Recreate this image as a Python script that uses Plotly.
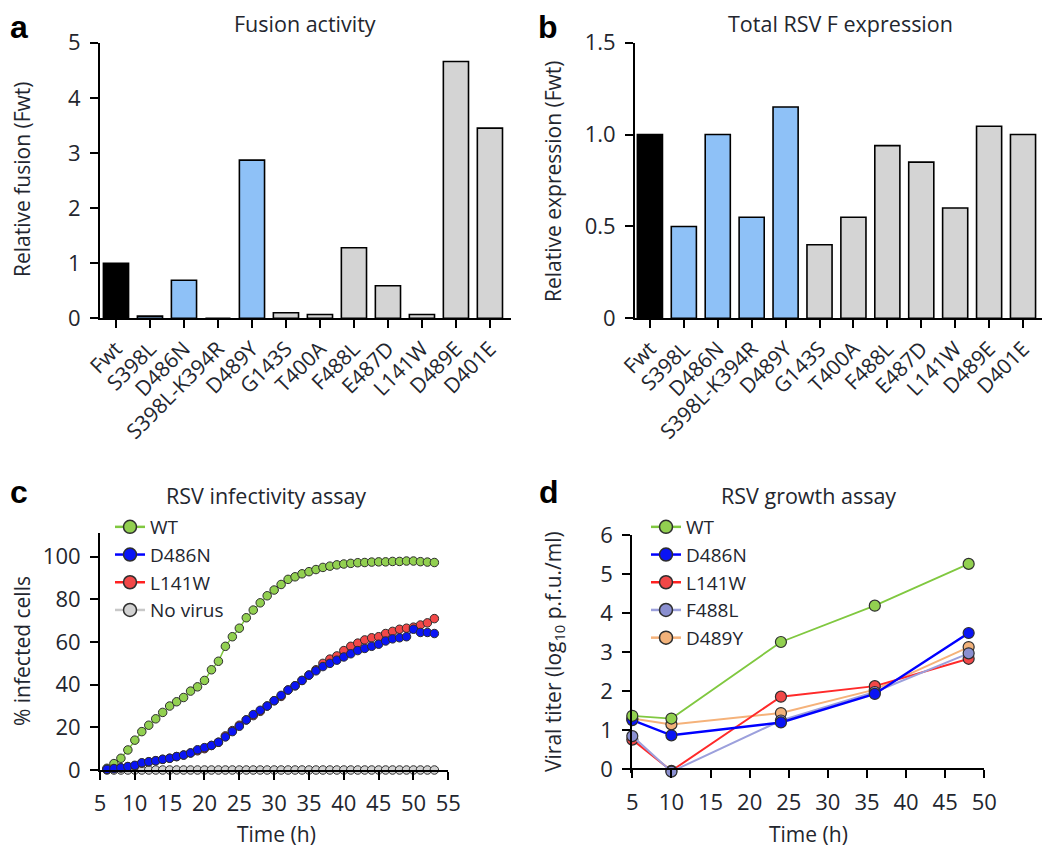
import plotly.graph_objects as go

FONT = "Open Sans"
LETTER_FONT = "Liberation Sans"
INK = "#23262e"
# the page body keeps its 8px margin, so the figure is 8px smaller than the window
OFF = 8
W, H = 1050 - OFF, 848 - OFF

# ---- panels a / b: F variants ----
variants = ["Fwt", "S398L", "D486N", "S398L-K394R", "D489Y", "G143S", "T400A",
            "F488L", "E487D", "L141W", "D489E", "D401E"]
variant_group = ["wt", "blue", "blue", "blue", "blue", "grey", "grey",
                 "grey", "grey", "grey", "grey", "grey"]
fusion = [1.0, 0.04, 0.69, 0.0, 2.87, 0.10, 0.07, 1.28, 0.59, 0.07, 4.66, 3.45]
expression = [1.0, 0.50, 1.0, 0.55, 1.15, 0.40, 0.55, 0.94, 0.85, 0.60, 1.045, 1.0]

# ---- panel c: infectivity time course (h, % infected) ----
c_time = [6, 7, 8, 9, 10, 11, 12, 13, 14, 15, 16, 17, 18, 19, 20, 21,
          22, 23, 24, 25, 26, 27, 28, 29, 30, 31, 32, 33, 34, 35, 36, 37,
          38, 39, 40, 41, 42, 43, 44, 45, 46, 47, 48, 49, 50, 51, 52, 53]
c_wt = [0.8, 3, 5.5, 9.4, 14, 18, 21, 24, 27, 30, 32, 34, 37, 39, 42, 47,
        51, 58, 62.5, 66.5, 71.4, 75, 78.4, 81.7, 84.4, 87, 89.4, 90.6, 92, 93, 94, 95,
        95.6, 96.2, 96.6, 96.9, 97.2, 97.3, 97.5, 97.6, 97.6, 97.8, 97.8, 98, 98, 97.7, 97.5, 97.3]
c_d486n = [0.3, 0.6, 1.0, 1.6, 2.2, 3.4, 3.9, 4.3, 5, 5.5, 6.3, 7, 8, 9.5, 10.5, 11.5,
           13, 15.5, 18, 20.5, 23.5, 26, 28, 30, 32.5, 35, 37.5, 39.5, 42, 44.5, 46.5, 48.5,
           50, 51.5, 53, 54.5, 56, 57, 58, 59, 60.5, 61.5, 62, 62.5, 66, 64.5, 64.5, 64]
c_l141w = [0.3, 0.7, 1.0, 1.6, 2.0, 3.2, 3.8, 4.4, 5, 5.5, 6.3, 7, 8, 9, 10, 11.5,
           13, 16, 18.5, 21, 23.5, 25.5, 27.5, 30, 32.5, 34.5, 37.5, 39.5, 42, 44.5, 47, 50,
           52, 53.5, 56, 58, 59.5, 61, 62, 62.5, 64, 65, 66, 66.5, 67, 68, 69, 71]
c_novirus = [0, 0, 0, 0, 0, 0, 0, 0, 0, 0, 0, 0, 0, 0, 0, 0,
             0, 0, 0, 0, 0, 0, 0, 0, 0, 0, 0, 0, 0, 0, 0, 0,
             0, 0, 0, 0, 0, 0, 0, 0, 0, 0, 0, 0, 0, 0, 0, 0]

# ---- panel d: growth (h, log10 pfu/ml) ----
d_time = [5, 10, 24, 36, 48]
d_wt = [1.37, 1.30, 3.26, 4.19, 5.26]
d_d486n = [1.26, 0.87, 1.20, 1.93, 3.49]
d_l141w = [0.76, -0.04, 1.86, 2.13, 2.83]
d_f488l = [0.85, -0.06, 1.25, 1.98, 2.97]
d_d489y = [1.30, 1.15, 1.44, 2.04, 3.13]

BAR_FILL = {"wt": "#000000", "blue": "#8ec1f7", "grey": "#d4d4d4"}
EDGE = "#2e2e2e"


def px(x):
    return (x - OFF) / W


def py(y):
    return 1 - (y - OFF) / H


def axis(**kw):
    base = dict(showline=True, linecolor="black", linewidth=2, ticks="outside",
                ticklen=8, tickwidth=2, tickcolor="black", showgrid=False,
                zeroline=False, automargin=False, ticklabelstandoff=5,
                tickfont=dict(size=22, color=INK, family=FONT))
    base.update(kw)
    return base


fig = go.Figure()

for values, xa, ya in [(fusion, "x", "y"), (expression, "x2", "y2")]:
    fig.add_trace(go.Bar(
        x=variants, y=values, width=0.74,
        marker=dict(color=[BAR_FILL[g] for g in variant_group],
                    line=dict(color="black", width=1.6)),
        xaxis=xa, yaxis=ya, showlegend=False,
    ))

# panel c traces (drawn in stacking order, legend keys added separately)
c_series = [
    ("No virus", c_novirus, "#d2d2d2", "#c8c8c8"),
    ("WT", c_wt, "#92d050", "#80c840"),
    ("L141W", c_l141w, "#f24848", "#ff2020"),
    ("D486N", c_d486n, "#0a14f5", "#0000ff"),
]
for name, vals, fill, line in c_series:
    fig.add_trace(go.Scatter(
        x=c_time, y=vals, mode="lines+markers", name=name,
        line=dict(color=line, width=1.5),
        marker=dict(size=8.5, color=fill, line=dict(color=EDGE, width=1)),
        cliponaxis=False, xaxis="x3", yaxis="y3", showlegend=False,
    ))
c_legend = [("WT", "#92d050", "#80c840"), ("D486N", "#0a14f5", "#0000ff"),
            ("L141W", "#f24848", "#ff2020"), ("No virus", "#d2d2d2", "#c8c8c8")]
for name, fill, line in c_legend:
    fig.add_trace(go.Scatter(
        x=[None], y=[None], mode="lines+markers", name=name,
        line=dict(color=line, width=2.5),
        marker=dict(size=13, color=fill, line=dict(color=EDGE, width=1.5)),
        xaxis="x3", yaxis="y3", legend="legend",
    ))

# panel d traces
d_series = [
    ("D489Y", d_d489y, "#f2b27a", "#f5b27a", 2),
    ("L141W", d_l141w, "#f24848", "#ff2a2a", 2),
    ("F488L", d_f488l, "#8a8fd0", "#9ca0dc", 2),
    ("D486N", d_d486n, "#0a14f5", "#0000ff", 2.5),
    ("WT", d_wt, "#92d050", "#80c840", 1.8),
]
for name, vals, fill, line, lw in d_series:
    fig.add_trace(go.Scatter(
        x=d_time, y=vals, mode="lines+markers", name=name,
        line=dict(color=line, width=lw),
        marker=dict(size=11, color=fill, line=dict(color=EDGE, width=1.2)),
        cliponaxis=False, xaxis="x4", yaxis="y4", showlegend=False,
    ))
d_legend = [("WT", "#92d050", "#80c840"), ("D486N", "#0a14f5", "#0000ff"),
            ("L141W", "#f24848", "#ff2020"), ("F488L", "#8a8fd0", "#9ca0dc"),
            ("D489Y", "#f2b27a", "#f5b27a")]
for name, fill, line in d_legend:
    fig.add_trace(go.Scatter(
        x=[None], y=[None], mode="lines+markers", name=name,
        line=dict(color=line, width=2.5),
        marker=dict(size=13, color=fill, line=dict(color=EDGE, width=1.5)),
        xaxis="x4", yaxis="y4", legend="legend2",
    ))

cat_font = dict(size=21, color=INK, family=FONT)
legend_font = dict(size=19, color=INK, family=FONT)

# panel d: the y range dips just below 0 so the points under the axis stay visible;
# its x axis is pinned at the y = 0 level
d_px_per_unit = (769.3 - 535) / 6
d_ymin = -0.1

fig.update_layout(
    width=W, height=H,
    margin=dict(l=0, r=0, t=0, b=0, autoexpand=False),
    paper_bgcolor="white", plot_bgcolor="white",
    font=dict(family=FONT, color=INK),
    xaxis=axis(domain=[px(100), px(511)], anchor="y", type="category",
               range=[-0.47, 11.62], tickangle=-45, tickfont=cat_font, ticklabelstandoff=0),
    yaxis=axis(domain=[py(318.3), py(42.7)], anchor="x", range=[0, 5], dtick=1),
    xaxis2=axis(domain=[px(635), px(1042)], anchor="y2", type="category",
                range=[-0.44, 11.56], tickangle=-45, tickfont=cat_font, ticklabelstandoff=0),
    yaxis2=axis(domain=[py(318.3), py(42.7)], anchor="x2", range=[0, 1.5],
                tickvals=[0, 0.5, 1.0, 1.5], ticktext=["0", "0.5", "1.0", "1.5"]),
    xaxis3=axis(domain=[px(100), px(448.3)], anchor="y3", range=[5, 55], dtick=5, tick0=5),
    yaxis3=axis(domain=[py(770), py(533.3)], anchor="x3", range=[0, 111], dtick=20),
    xaxis4=axis(domain=[px(632.3), px(984.3)], anchor="free", position=py(769.3),
                range=[5, 50], dtick=5, tick0=5),
    yaxis4=axis(domain=[py(769.3 - d_ymin * d_px_per_unit), py(535)], anchor="x4",
                range=[d_ymin, 6], tickvals=[0, 1, 2, 3, 4, 5, 6]),
    legend=dict(x=px(110), y=py(508), xanchor="left", yanchor="top",
                bgcolor="rgba(0,0,0,0)", font=legend_font, tracegroupgap=0),
    legend2=dict(x=px(646), y=py(508), xanchor="left", yanchor="top",
                 bgcolor="rgba(0,0,0,0)", font=legend_font, tracegroupgap=0),
)

# panel titles, axis titles and panel letters
texts = [
    ("Fusion activity", 305, 23, 0, 21.5),
    ("Total RSV F expression", 840, 23, 0, 21.5),
    ("RSV infectivity assay", 266, 495, 0, 21.5),
    ("RSV growth assay", 808, 495, 0, 21.5),
    ("Relative fusion (Fwt)", 22, 180, -90, 21),
    ("Relative expression (Fwt)", 553, 181, -90, 21),
    ("% infected cells", 22, 651, -90, 21),
    ("Viral titer (log<sub>10</sub> p.f.u./ml)", 554, 652, -90, 21),
    ("Time (h)", 276, 834, 0, 21),
    ("Time (h)", 808, 834, 0, 21),
]
for text, x, y, angle, size in texts:
    fig.add_annotation(text=text, x=px(x), y=py(y), xref="paper", yref="paper",
                       showarrow=False, xanchor="center", yanchor="middle", textangle=angle,
                       font=dict(size=size, color=INK, family=FONT))

panel_letters = [("a", 8, 27), ("b", 536, 27), ("c", 8, 492), ("d", 537, 492)]
for text, x, y in panel_letters:
    fig.add_annotation(text="<b>%s</b>" % text, x=px(x), y=py(y), xref="paper", yref="paper",
                       showarrow=False, xanchor="left", yanchor="middle",
                       font=dict(size=32, color="black", family=LETTER_FONT))

fig.write_html("out.html")
